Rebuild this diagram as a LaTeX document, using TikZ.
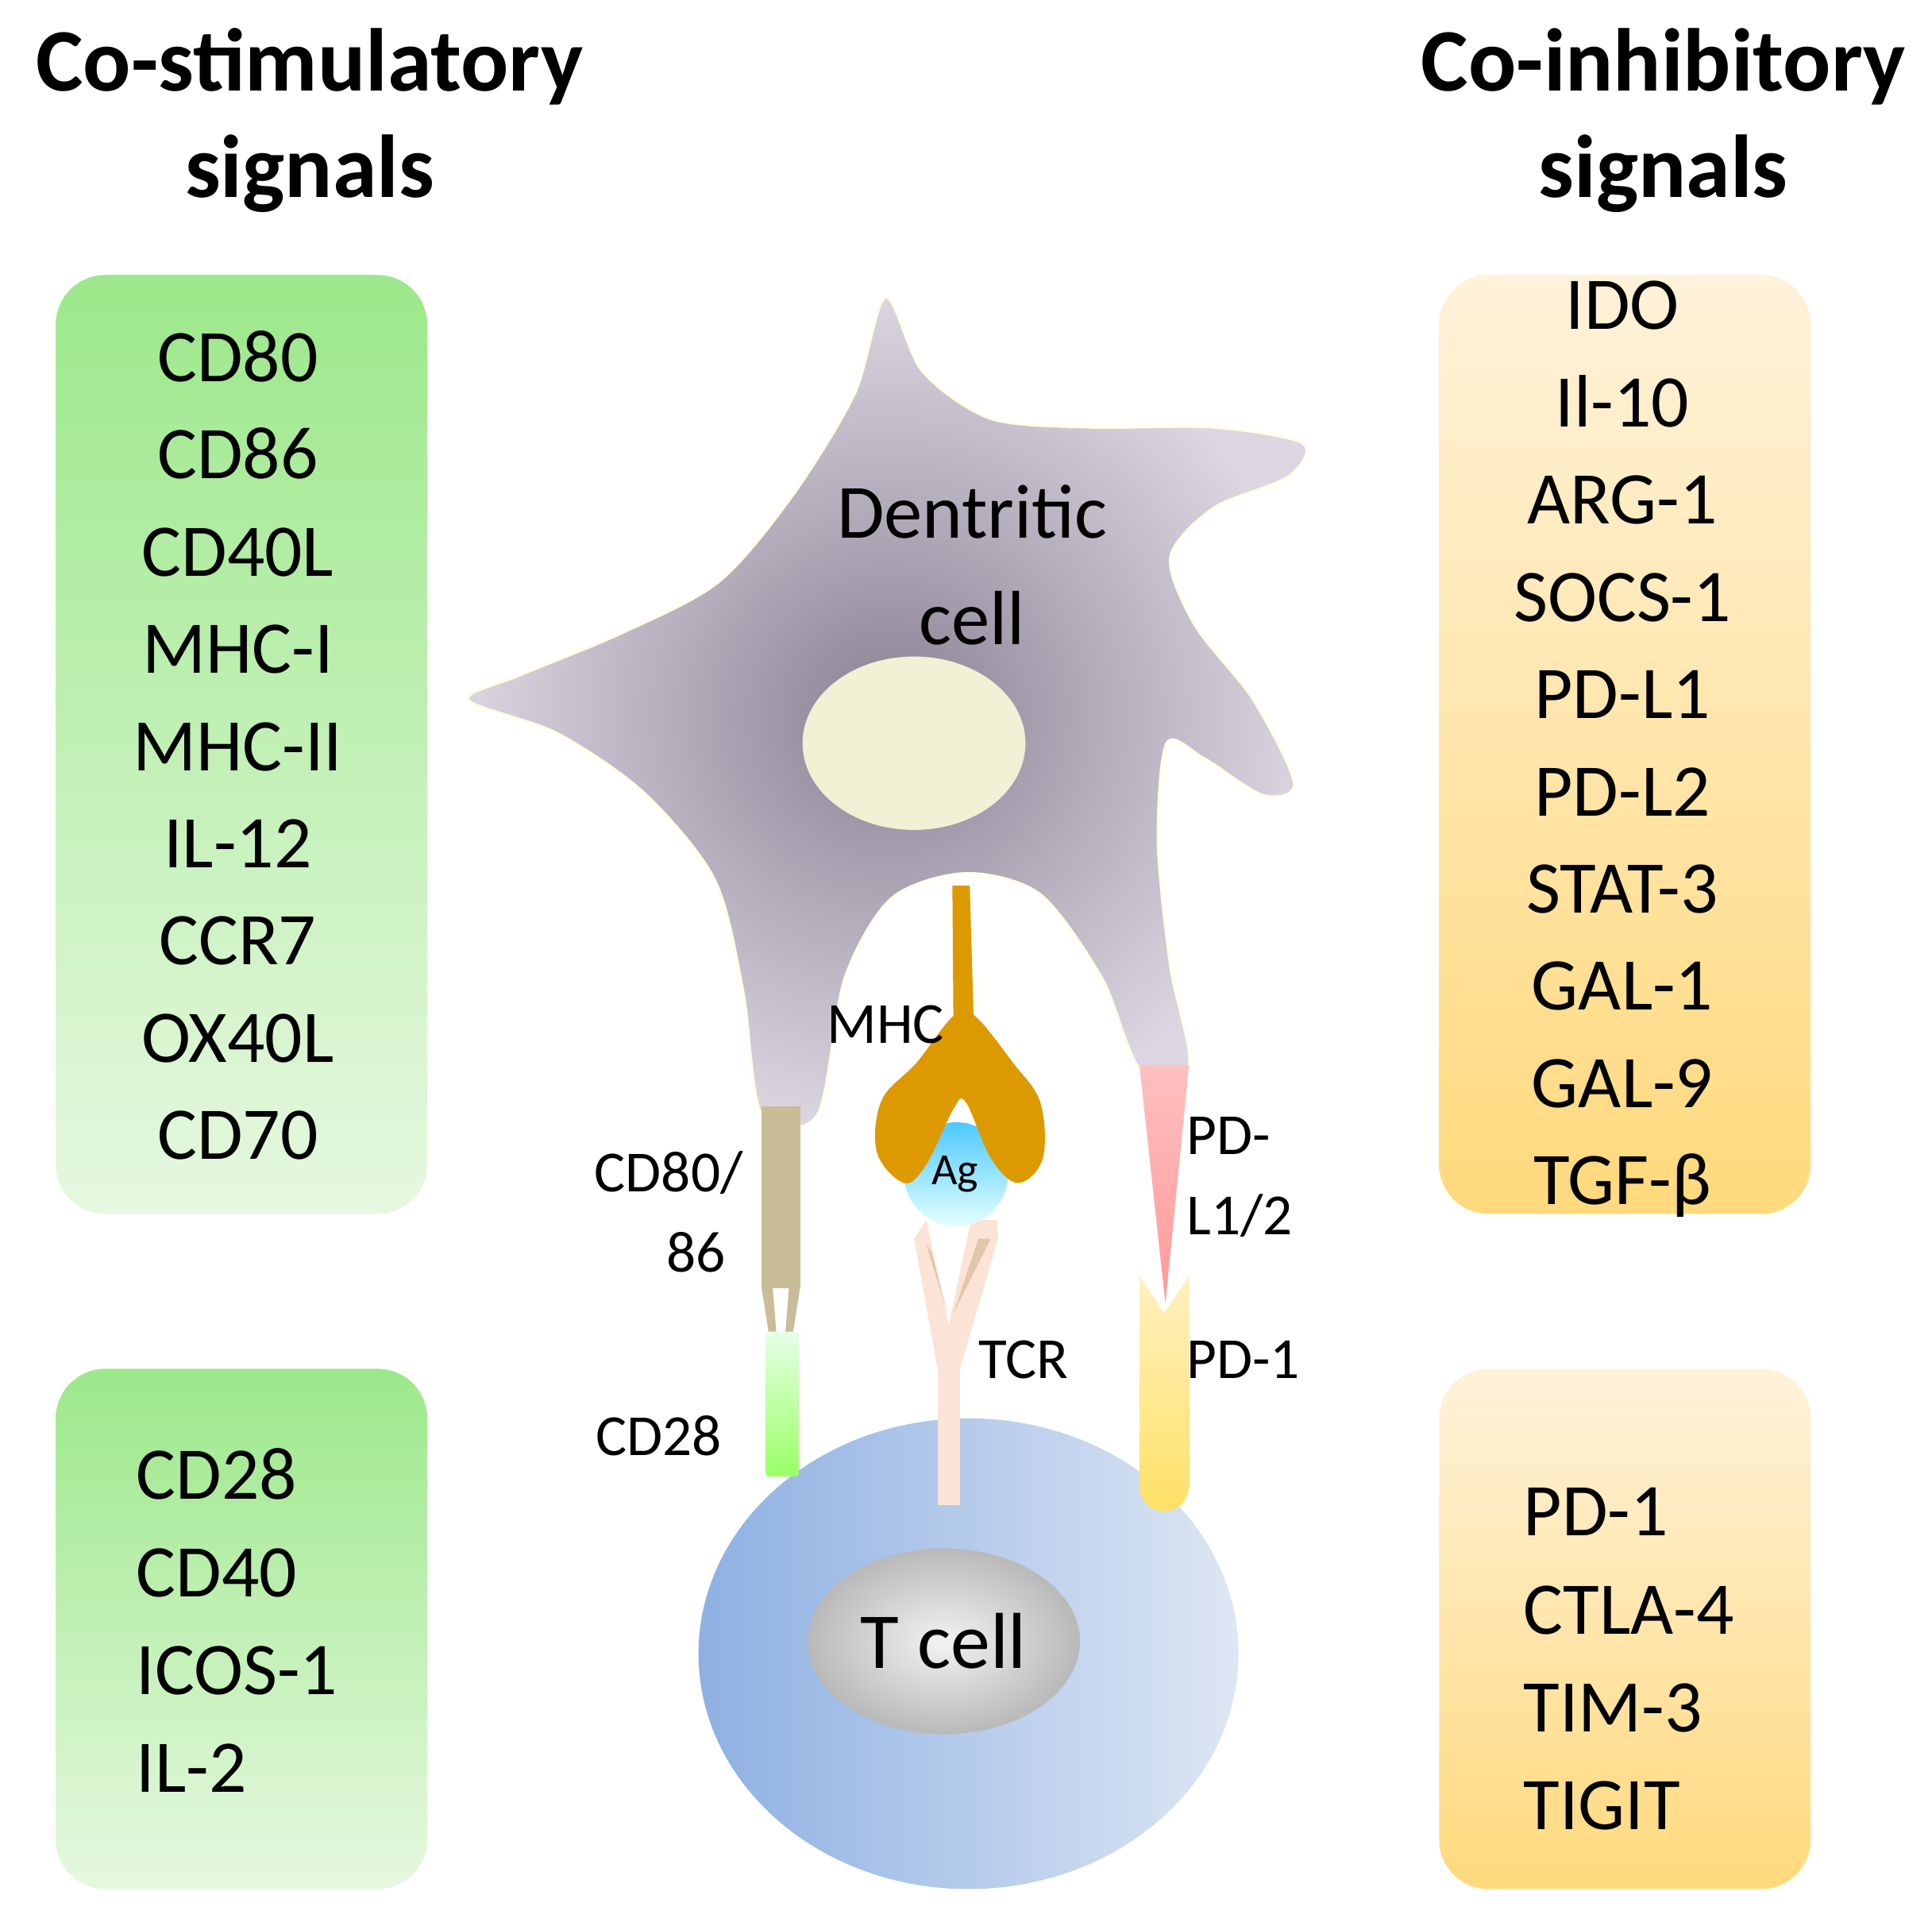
\documentclass[tikz,border=0pt]{standalone}
\usepackage{fontspec}
\setmainfont{Carlito}
\begin{document}
\begin{tikzpicture}[x=1pt,y=-1pt,
 item/.style={font=\fontsize{60}{60}\selectfont,inner sep=0pt,anchor=base},
 lab/.style={font=\fontsize{47}{47}\selectfont,inner sep=0pt,anchor=base west},
 ttl/.style={font=\fontsize{72}{86}\selectfont\bfseries,align=center,inner sep=0pt}]
\useasboundingbox (0,0) rectangle (1560,1558);
\definecolor{dcin}{HTML}{8A8294}\definecolor{dcout}{HTML}{DCD6E2}
\definecolor{gtop}{HTML}{9CE88A}\definecolor{gbot}{HTML}{E6F8E0}
\definecolor{otop}{HTML}{FFF2DA}\definecolor{obot}{HTML}{FFD97C}
\definecolor{tan}{HTML}{C9BD97}\definecolor{mhc}{HTML}{DC9A00}
\definecolor{tl}{HTML}{8EB0E2}\definecolor{tr}{HTML}{DDE6F4}
\definecolor{tcr}{HTML}{FBE4D6}
% titles
\node[ttl] (t1) at (250,97) {Co-stimulatory\\signals};
\node[ttl] (t2) at (1343,97) {Co-inhibitory\\signals};
% boxes
\shade[top color=gtop, bottom color=gbot, rounded corners=40pt] (45,222) rectangle (345,980);
\shade[top color=gtop, bottom color=gbot, rounded corners=40pt] (45,1105) rectangle (345,1525);
\shade[top color=otop, bottom color=obot, rounded corners=40pt] (1162,222) rectangle (1462,980);
\shade[top color=otop, bottom color=obot, rounded corners=40pt] (1162,1105) rectangle (1462,1525);
\foreach \t [count=\i] in {CD80,CD86,CD40L,MHC-I,MHC-II,IL-12,CCR7,OX40L,CD70}
  \node[item] (s\i) at (192,{308+78.5*(\i-1)}) {\t};
\foreach \t [count=\i] in {CD28,CD40,ICOS-1,IL-2}
  \node[item,anchor=base west] (r\i) at (110,{1210+79*(\i-1)}) {\t};
\foreach \t [count=\i] in {IDO,Il-10,ARG-1,SOCS-1,PD-L1,PD-L2,STAT-3,GAL-1,GAL-9,TGF-β}
  \node[item] (h\i) at (1310,{266+78.5*(\i-1)}) {\t};
\foreach \t [count=\i] in {PD-1,CTLA-4,TIM-3,TIGIT}
  \node[item,anchor=base west] (q\i) at (1230,{1240+79*(\i-1)}) {\t};
% T cell
\shade[left color=tl, right color=tr] (782,1335) ellipse [x radius=218, y radius=190];
\shade[inner color=gray!10, outer color=gray!55] (762,1325) ellipse [x radius=110, y radius=75];
\node[item,font=\fontsize{64}{64}\selectfont,anchor=center] (tc) at (762,1325) {T cell};
% dendritic cell
\shade[inner color=dcin, outer color=dcout, draw=white!90!yellow, line width=2pt]
 plot[smooth cycle, tension=0.5] coordinates {(715,240)(745,300)(800,338)(880,345)(980,345)(1052,358)(1040,385)(980,410)(945,450)(965,505)(1012,565)(1045,632)(1020,642)(972,612)(942,600)(935,680)(945,780)(960,860)(920,862)(890,790)(840,722)(780,705)(720,725)(682,790)(660,900)(615,900)(600,800)(577,710)(520,640)(450,592)(378,565)(420,545)(500,512)(580,470)(640,400)(690,318)};
\fill[white!88!olive] (738,600) ellipse [x radius=90, y radius=70];
\node[item,font=\fontsize{62}{86}\selectfont,align=center,anchor=center] (dc) at (785,456) {Dentritic\\cell};
% CD80/86 and CD28
\fill[tan] (615,893) rectangle (646,1040);
\fill[tan] (615,1040) -- (621,1078) -- (627,1078) -- (624,1040) -- cycle;
\fill[tan] (646,1040) -- (640,1078) -- (634,1078) -- (637,1040) -- cycle;
\shade[top color=green!10, bottom color=green!55!lime!60, rounded corners=3pt] (618,1075) rectangle (645,1192);
\node[lab,anchor=base] (l1) at (540,962) {CD80/};
\node[lab,anchor=base] (l2) at (562,1027) {86};
\node[lab,anchor=base] (l3) at (532,1175) {CD28};
% TCR
\fill[tcr] (757,1100) rectangle (775,1215);
\fill[tcr] (757,1105) -- (738,1000) -- (748,985) -- (766,1070) -- (784,985) -- (805,985) -- (806,1000) -- (775,1105) -- cycle;
\fill[brown!45!white] (748,1005) -- (765,1060) -- (752,1010) -- cycle;
\fill[brown!45!white] (800,1000) -- (770,1060) -- (790,1000) -- cycle;
\node[lab] (l4) at (790,1113) {TCR};
% Ag and MHC
\shade[top color=cyan!70!blue!70, bottom color=cyan!10] (772,948) circle (42);
\fill[mhc] (769,715) -- (783,715) -- (787,850) -- (770,850) -- cycle;
\fill[mhc] plot[smooth cycle, tension=0.6] coordinates {(770,820)(740,858)(712,888)(708,930)(730,955)(748,940)(770,895)(780,890)(800,935)(822,955)(842,935)(840,890)(818,858)(787,820)};
\node[item,font=\fontsize{36}{36}\selectfont,anchor=center] (ag) at (771,948) {Ag};
\node[lab,anchor=base] (l5) at (715,842) {MHC};
% PD-L1/2 and PD-1
\shade[top color=yellow!55!orange!25, bottom color=yellow!60!orange!60] (920,1030) -- (940,1060) -- (960,1030) -- (960,1200) arc[start angle=0,end angle=180,radius=20] -- cycle;
\shade[top color=red!25, bottom color=red!40] (920,860) -- (960,860) -- (941,1052) -- cycle;
\node[lab] (l6) at (958,932) {PD-};
\node[lab] (l7) at (958,997) {L1/2};
\node[lab] (l8) at (958,1113) {PD-1};
\end{tikzpicture}
\end{document}
